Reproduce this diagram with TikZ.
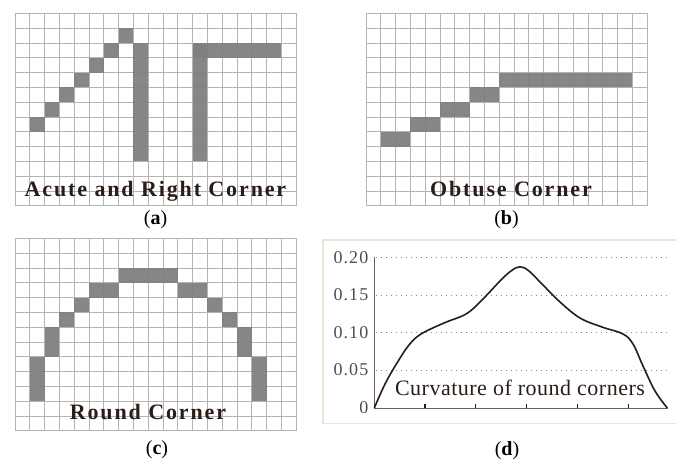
\documentclass[tikz,border=0pt]{standalone}
\usepackage{fontspec}
\setmainfont{Liberation Serif}
\definecolor{cellgray}{HTML}{7F7F7F}
\definecolor{gridgray}{HTML}{B4B4B4}
\definecolor{txtbrown}{HTML}{2A1D17}
\definecolor{axiscol}{HTML}{6E5F5B}
\definecolor{framecol}{HTML}{E6E6D6}
\definecolor{dotcol}{HTML}{8A8A8A}
\definecolor{ticklab}{HTML}{4D4D4D}
\newcommand\pixgrid{%
  \foreach \i in {0,...,19} \draw[gridln] (\i,0) -- (\i,13);
  \foreach \j in {0,...,13} \draw[gridln] (0,\j) -- (19,\j);}
\begin{document}
\begin{tikzpicture}[x=1pt,y=-1pt,
  gridln/.style={draw=gridgray, line width=0.7pt},
  cellbox/.style={fill=cellgray, fill opacity=0.95},
  gridlabel/.style={inner sep=0pt, anchor=base, text=txtbrown, font=\fontsize{22}{24}\selectfont\bfseries\addfontfeatures{LetterSpace=8.5}},
  caplabel/.style={inner sep=0pt, anchor=base, text=black, font=\fontsize{20}{22}\selectfont},
  ticklabel/.style={inner sep=0pt, anchor=base east, text=ticklab, font=\fontsize{18}{20}\selectfont\addfontfeatures{LetterSpace=6}},
  dotline/.style={draw=dotcol, line width=1.1pt, dash pattern=on 1.1pt off 3.9pt},
  axisln/.style={draw=axiscol, line width=1pt},
  tickln/.style={draw=txtbrown, line width=1.4pt},
  curveln/.style={draw=txtbrown, line width=1.6pt}]
\useasboundingbox (0,0) rectangle (676,463);

% ---------- panel (a)
\begin{scope}[shift={(15,13.3)}, x=14.8pt, y=-14.8pt]
  \pixgrid
  \foreach \c/\r in {7/1,6/2,5/3,4/4,3/5,2/6,1/7}
    \fill[cellbox] (\c,\r) rectangle ++(1,1);
  \fill[cellbox] (8,2) rectangle (9,10);
  \fill[cellbox] (12,2) rectangle (13,10);
  \fill[cellbox] (12,2) rectangle (18,3);
\end{scope}
\node[gridlabel] (ta) at (155.5,196) {Acute and Right Corner};
\node[caplabel] (ca) at (155.5,224) {(\textbf{a})};

% ---------- panel (b)
\begin{scope}[shift={(366,13.3)}, x=14.8pt, y=-14.8pt]
  \pixgrid
  \fill[cellbox] (9,4) rectangle (18,5);
  \fill[cellbox] (7,5) rectangle (9,6);
  \fill[cellbox] (5,6) rectangle (7,7);
  \fill[cellbox] (3,7) rectangle (5,8);
  \fill[cellbox] (1,8) rectangle (3,9);
\end{scope}
\node[gridlabel] (tb) at (511,196) {Obtuse Corner};
\node[caplabel] (cb) at (506.5,224) {(\textbf{b})};

% ---------- panel (c)
\begin{scope}[shift={(15,238.3)}, x=14.8pt, y=-14.8pt]
  \pixgrid
  \fill[cellbox] (7,2) rectangle (11,3);
  \fill[cellbox] (5,3) rectangle (7,4);
  \fill[cellbox] (11,3) rectangle (13,4);
  \foreach \c/\r in {4/4,13/4,3/5,14/5}
    \fill[cellbox] (\c,\r) rectangle ++(1,1);
  \fill[cellbox] (2,6) rectangle (3,8);
  \fill[cellbox] (15,6) rectangle (16,8);
  \fill[cellbox] (1,8) rectangle (2,11);
  \fill[cellbox] (16,8) rectangle (17,11);
\end{scope}
\node[gridlabel] (tc) at (148,419) {Round Corner};
\node[caplabel] (cc) at (157,454) {(\textbf{c})};

% ---------- panel (d)
\draw[draw=framecol, line width=1.5pt, fill=white] (323,240) rectangle (682,423.3);
\foreach \v/\y in {0.20/257.6,0.15/295.2,0.10/332.8,0.05/370.4}{
  \draw[dotline] (376,\y) -- (668,\y);
  \node[ticklabel] at (368.5,\y+5.5) {\v};
}
\node[ticklabel] (t0) at (368.5,413.5) {0};
\coordinate (ytop) at (374.3,256.7);
\coordinate (orig) at (374.3,408);
\coordinate (xend) at (668,408);
\draw[axisln] (ytop) -- (orig) -- (xend);
\foreach \x in {425,475.7,526.7,577.3,628.3}
  \draw[tickln] (\x,403.5) -- (\x,408);
\draw[curveln] plot[smooth, tension=0.6] coordinates {
  (374.3,408) (385,384) (397,363) (409,345) (421,334) (444,323) (466,314)
  (481,301) (500,281) (511,271) (520,266.7) (529,271) (541,283) (560,302)
  (580,318) (602,327) (623,334) (633,344) (643,366) (655,391) (667.3,408)};
\node[inner sep=0pt, anchor=base, text=txtbrown, font=\fontsize{22}{24}\selectfont\addfontfeatures{LetterSpace=2.3}] (tcurv) at (520,395.7) {Curvature of round corners};
\node[caplabel] (cd) at (507,455) {(\textbf{d})};
\end{tikzpicture}
\end{document}
